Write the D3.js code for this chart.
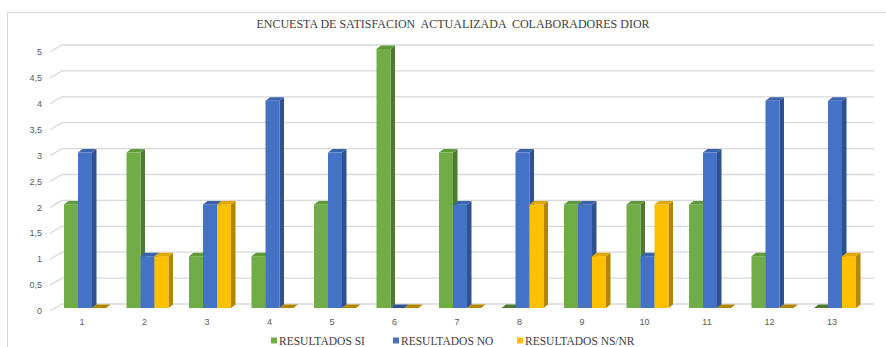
<!DOCTYPE html>
<html>
<head>
<meta charset="utf-8">
<script src="https://cdn.jsdelivr.net/npm/d3@7"></script>
<style>
  body { margin: 0; background: #fff; }
  svg { display: block; }
</style>
</head>
<body>
<svg id="chart" width="886" height="347"></svg>
<script>
// Encuesta de satisfaccion - barras 3D agrupadas

var categories = ["1", "2", "3", "4", "5", "6", "7", "8", "9", "10", "11", "12", "13"];
var seriesNames = ["RESULTADOS SI", "RESULTADOS NO", "RESULTADOS NS/NR"];
var resultadosSi = [2, 3, 1, 1, 2, 5, 3, 0, 2, 2, 2, 1, 0];
var resultadosNo = [3, 1, 2, 4, 3, 0, 2, 3, 2, 1, 3, 4, 4];
var resultadosNsNr = [0, 1, 2, 0, 0, 0, 0, 2, 1, 2, 0, 0, 1];
var yTicks = [0, 0.5, 1, 1.5, 2, 2.5, 3, 3.5, 4, 4.5, 5];

var svg = d3.select("#chart");
var width = +svg.attr("width");
var height = +svg.attr("height");

var front = ["#70ad47", "#4472c4", "#ffc000"];
var side = ["#4d7a30", "#2f5191", "#b38600"];
var topc = ["#5f9a3a", "#3a63ad", "#e0a800"];

var series = [resultadosSi, resultadosNo, resultadosNsNr];

// depth of the bars (3d look)
var dx = 4.5, dy = -3.5;

var x = d3.scaleBand()
    .domain(categories)
    .range([53.75, 866.25]);

var xs = d3.scaleBand()
    .domain(d3.range(3))
    .range([x.bandwidth() / 2 - 21, x.bandwidth() / 2 + 21]);

var y = d3.scaleLinear()
    .domain([0, 5])
    .range([308, 49]);

// outer frame (only top + left visible)
svg.append("line")
    .attr("x1", 7).attr("x2", width).attr("y1", 12.5).attr("y2", 12.5)
    .attr("stroke", "#d9d9d9").attr("stroke-width", 1);
svg.append("line")
    .attr("x1", 7.5).attr("x2", 7.5).attr("y1", 12).attr("y2", height)
    .attr("stroke", "#d9d9d9").attr("stroke-width", 1);

// title
svg.append("text")
    .attr("x", 453)
    .attr("y", 28)
    .attr("text-anchor", "middle")
    .attr("font-family", "Liberation Serif, Times New Roman, serif")
    .attr("font-size", "12px")
    .attr("fill", "#404040")
    .style("white-space", "pre")
    .text("ENCUESTA DE SATISFACION  ACTUALIZADA  COLABORADORES DIOR");

// back wall gridlines
var grid = svg.append("g").attr("class", "grid");
grid.selectAll("path")
    .data(yTicks)
    .enter()
    .append("path")
    .attr("d", d => `M50,${y(d) + 3}L62,${y(d) - 4}L874,${y(d) - 4}`)
    .attr("fill", "none")
    .attr("stroke", "#d9d9d9")
    .attr("stroke-width", 1.3);

// y labels
svg.append("g")
    .selectAll("text")
    .data(yTicks)
    .enter()
    .append("text")
    .attr("x", 42)
    .attr("y", d => y(d) + 3)
    .attr("dy", "0.35em")
    .attr("text-anchor", "end")
    .attr("font-family", "Liberation Sans, Arial, sans-serif")
    .attr("font-size", "9px")
    .attr("fill", "#595959")
    .text(d => String(d).replace(".", ","));

// x labels
svg.append("g")
    .selectAll("text")
    .data(categories)
    .enter()
    .append("text")
    .attr("x", d => x(d) + x.bandwidth() / 2 - 3)
    .attr("y", 322)
    .attr("dy", "0.35em")
    .attr("text-anchor", "middle")
    .attr("font-family", "Liberation Sans, Arial, sans-serif")
    .attr("font-size", "9px")
    .attr("fill", "#595959")
    .text(d => d);

// bars
var bars = [];
categories.forEach((c, i) => {
    series.forEach((s, k) => {
        bars.push({ cat: c, k: k, v: s[i] });
    });
});

var bw = xs.bandwidth();
var barG = svg.append("g").attr("class", "bars")
    .selectAll("g.bar")
    .data(bars)
    .enter()
    .append("g")
    .attr("class", "bar")
    .attr("transform", d => `translate(${x(d.cat) + xs(d.k)},0)`);

// side face
barG.filter(d => d.v > 0)
    .append("path")
    .attr("d", d => {
        var y0 = y(0), y1 = y(d.v);
        return `M${bw},${y0}L${bw + dx},${y0 + dy}L${bw + dx},${y1 + dy}L${bw},${y1}Z`;
    })
    .attr("fill", d => side[d.k]);

// front face
barG.filter(d => d.v > 0)
    .append("rect")
    .attr("x", 0)
    .attr("y", d => y(d.v))
    .attr("width", bw)
    .attr("height", d => y(0) - y(d.v))
    .attr("fill", d => front[d.k]);

// top face
barG.append("path")
    .attr("d", d => {
        var y1 = y(d.v);
        return `M0,${y1}L${dx},${y1 + dy}L${bw + dx},${y1 + dy}L${bw},${y1}Z`;
    })
    .attr("fill", d => d.v > 0 ? topc[d.k] : side[d.k]);

// legend
var legendX = [271, 393, 517];
var legend = svg.append("g").attr("class", "legend")
    .selectAll("g")
    .data(seriesNames)
    .enter()
    .append("g")
    .attr("transform", (d, i) => `translate(${legendX[i]},340.5)`);

legend.append("rect")
    .attr("x", 0).attr("y", -3)
    .attr("width", 6).attr("height", 6)
    .attr("fill", (d, i) => front[i]);

legend.append("text")
    .attr("x", 8)
    .attr("y", 0)
    .attr("dy", "0.35em")
    .attr("font-family", "Liberation Serif, Times New Roman, serif")
    .attr("font-size", "11.5px")
    .attr("fill", "#404040")
    .text(d => d);
</script>
</body>
</html>
